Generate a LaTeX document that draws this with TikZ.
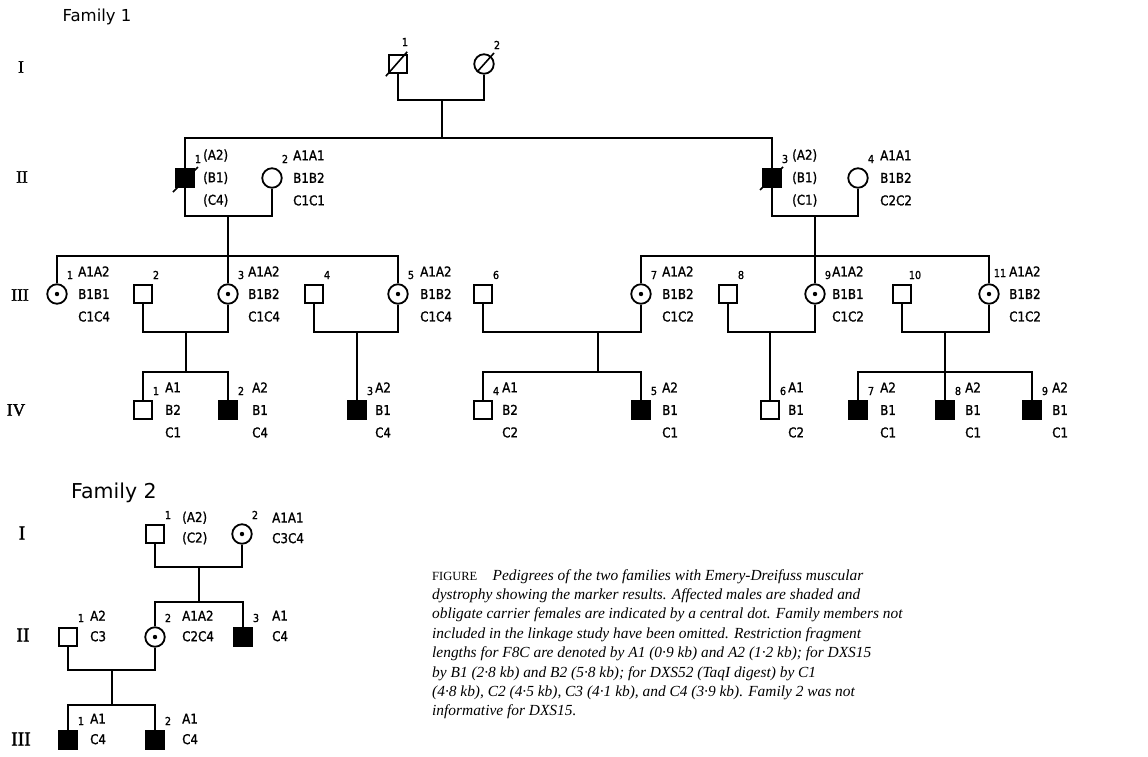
\documentclass[tikz,border=0pt]{standalone}
\usepackage{fontspec}
\setmainfont{Liberation Serif}
\newfontfamily\pedfont[FakeStretch=0.88,FakeBold=1.2]{DejaVu Sans}
\newfontfamily\headfont{DejaVu Sans}
\newfontfamily\genfont[FakeBold=1.6]{Liberation Serif}
\usetikzlibrary{calc,positioning}

\tikzset{
  % ---- symbols ----------------------------------------------------------
  male/.style={draw, rectangle, minimum size=18.5pt, inner sep=0pt, line width=1.8pt},
  female/.style={draw, circle, minimum size=19.5pt, inner sep=0pt, line width=1.8pt},
  aff/.style={male, fill=black},
  carrier/.style={female,
    path picture={\fill (path picture bounding box.center) circle (2.2pt);}},
  % ---- lines ------------------------------------------------------------
  link/.style={line width=1.9pt},
  slash/.style={line width=1.6pt},
  % ---- text -------------------------------------------------------------
  num/.style={font=\pedfont\fontsize{11}{11}\selectfont, inner sep=0pt},
  geno/.style={font=\pedfont\fontsize{13.5}{22.5}\selectfont, align=left, inner sep=0pt},
  genob/.style={geno, font=\pedfont\fontsize{13.5}{20.5}\selectfont},
  gen/.style={font=\genfont\fontsize{17.5}{18}\selectfont, inner sep=0pt},
  genb/.style={font=\genfont\fontsize{19.5}{20}\selectfont, inner sep=0pt},
  famtitle/.style={font=\headfont\fontsize{16.5}{18}\selectfont, inner sep=0pt},
  capt/.style={font=\itshape\fontsize{15.4}{19.4}\selectfont, align=left, inner sep=0pt},
}

% person: [number offset]{name}{position}{style}{number}
\newcommand{\mk}[5][13,-19]{\node[#4] (#2) at (#3) {}; \node[num] (#2n) at ($(#3)+(#1)$) {#5};}
% marker results beside a person
\newcommand{\gtext}[3][20]{\node[geno, anchor=west] (#2g) at ($(#2)+(#1,0)$) {#3};}
\newcommand{\gtextb}[4][27]{\node[genob, anchor=west, yshift=#3] (#2g) at ($(#2)+(#1,0)$) {#4};}

\begin{document}
\begin{tikzpicture}[x=1pt,y=-1pt]
\useasboundingbox (0,0) rectangle (1148,756);

% ---- headings -------------------------------------------------------------
\node[famtitle] (fam1) at (97,17) {Family 1};
\node[famtitle, font=\headfont\fontsize{20.5}{22}\selectfont] (fam2) at (114,493) {Family 2};

\node[gen] (g1) at (21,67) {I};
\node[gen] (g2) at (22,177) {II};
\node[gen] (g3) at (20,295) {III};
\node[gen] (g4) at (16,410) {IV};

\node[genb] (h1) at (22,533) {I};
\node[genb] (h2) at (23,635) {II};
\node[genb] (h3) at (21,739) {III};

% ---- family 1 -------------------------------------------------------------
\mk[7,-22]{i1}{398,64}{male}{1}
\mk{i2}{484,64}{female}{2}
\draw[slash] ([shift={(-2,2)}]i1.south west) -- ([shift={(-1,-2)}]i1.north east);
\draw[slash] ($(i2)+(-7,8)$) -- ($(i2)+(10,-11)$);

\mk{ii1}{185,178}{aff}{1}        \gtext[18]{ii1}{(A2)\\(B1)\\(C4)}
\mk{ii2}{272,178}{female}{2}     \gtext[21]{ii2}{A1A1\\B1B2\\C1C1}
\mk{ii3}{772,178}{aff}{3}        \gtext{ii3}{(A2)\\(B1)\\(C1)}
\mk{ii4}{858,178}{female}{4}     \gtext[22]{ii4}{A1A1\\B1B2\\C2C2}
\draw[slash] ($(ii1)+(-12,14)$) -- ($(ii1)+(13,-11)$);
\draw[slash] ($(ii3)+(-12,12)$) -- ($(ii3)+(11,-11)$);

\mk{iii1}{57,294}{carrier}{1}    \gtext[21]{iii1}{A1A2\\B1B1\\C1C4}
\mk{iii2}{143,294}{male}{2}
\mk{iii3}{228,294}{carrier}{3}   \gtext{iii3}{A1A2\\B1B2\\C1C4}
\mk{iii4}{314,294}{male}{4}
\mk{iii5}{398,294}{carrier}{5}   \gtext[22]{iii5}{A1A2\\B1B2\\C1C4}
\mk{iii6}{483,294}{male}{6}
\mk{iii7}{641,294}{carrier}{7}   \gtext[21]{iii7}{A1A2\\B1B2\\C1C2}
\mk{iii8}{728,294}{male}{8}
\mk{iii9}{815,294}{carrier}{9}   \gtext[17]{iii9}{A1A2\\B1B1\\C1C2}
\mk{iii10}{902,294}{male}{10}
\mk[11,-21]{iii11}{989,294}{carrier}{11} \gtext[20]{iii11}{A1A2\\B1B2\\C1C2}

\mk{iv1}{143,410}{male}{1}       \gtext[22]{iv1}{A1\\B2\\C1}
\mk{iv2}{228,410}{aff}{2}        \gtext[24]{iv2}{A2\\B1\\C4}
\mk{iv3}{357,410}{aff}{3}        \gtext[18]{iv3}{A2\\B1\\C4}
\mk{iv4}{483,410}{male}{4}       \gtext[19]{iv4}{A1\\B2\\C2}
\mk{iv5}{641,410}{aff}{5}        \gtext[21]{iv5}{A2\\B1\\C1}
\mk{iv6}{770,410}{male}{6}       \gtext[18]{iv6}{A1\\B1\\C2}
\mk{iv7}{858,410}{aff}{7}        \gtext[22]{iv7}{A2\\B1\\C1}
\mk{iv8}{945,410}{aff}{8}        \gtext{iv8}{A2\\B1\\C1}
\mk{iv9}{1032,410}{aff}{9}       \gtext{iv9}{A2\\B1\\C1}

% matings and sibships
\coordinate (mI) at (442,100);  \coordinate (sII) at (442,138);
\draw[link] (i1.south) |- (mI) -| (i2.south);
\draw[link] (mI) -- (sII);
\draw[link] (ii1.north) |- (sII) -| (ii3.north);

\coordinate (mA) at (228,216);  \coordinate (sA) at (228,256);
\draw[link] (ii1.south) |- (mA) -| (ii2.south);
\draw[link] (mA) -- (sA);
\draw[link] (iii1.north) |- (sA) -| (iii5.north);
\draw[link] (sA) -- (iii3.north);

\coordinate (mB) at (815,216);  \coordinate (sB) at (815,256);
\draw[link] (ii3.south) |- (mB) -| (ii4.south);
\draw[link] (mB) -- (sB);
\draw[link] (iii7.north) |- (sB) -| (iii11.north);
\draw[link] (sB) -- (iii9.north);

\coordinate (mC) at (186,332);  \coordinate (sC) at (186,372);
\draw[link] (iii2.south) |- (mC) -| (iii3.south);
\draw[link] (mC) -- (sC);
\draw[link] (iv1.north) |- (sC) -| (iv2.north);

\coordinate (mD) at (357,332);
\draw[link] (iii4.south) |- (mD) -| (iii5.south);
\draw[link] (mD) -- (iv3.north);

\coordinate (mE) at (598,332);  \coordinate (sE) at (598,372);
\draw[link] (iii6.south) |- (mE) -| (iii7.south);
\draw[link] (mE) -- (sE);
\draw[link] (iv4.north) |- (sE) -| (iv5.north);

\coordinate (mF) at (770,332);
\draw[link] (iii8.south) |- (mF) -| (iii9.south);
\draw[link] (mF) -- (iv6.north);

\coordinate (mG) at (945,332);  \coordinate (sG) at (945,372);
\draw[link] (iii10.south) |- (mG) -| (iii11.south);
\draw[link] (mG) -- (sG);
\draw[link] (iv7.north) |- (sG) -| (iv9.north);
\draw[link] (sG) -- (iv8.north);

% ---- family 2 -------------------------------------------------------------
\mk{fi1}{155,534}{male}{1}       \gtextb[27]{fi1}{6pt}{(A2)\\(C2)}
\mk{fi2}{242,534}{carrier}{2}    \gtextb[30]{fi2}{6pt}{A1A1\\C3C4}
\mk{fii1}{68,637}{male}{1}       \gtextb[22]{fii1}{11pt}{A2\\C3}
\mk{fii2}{155,637}{carrier}{2}   \gtextb[27]{fii2}{11pt}{A1A2\\C2C4}
\mk{fii3}{243,637}{aff}{3}       \gtextb[29]{fii3}{11pt}{A1\\C4}
\mk{fiii1}{68,740}{aff}{1}       \gtextb[22]{fiii1}{11pt}{A1\\C4}
\mk{fiii2}{155,740}{aff}{2}      \gtextb[27]{fiii2}{11pt}{A1\\C4}

\coordinate (fm1) at (199,567);  \coordinate (fs1) at (199,602);
\draw[link] (fi1.south) |- (fm1) -| (fi2.south);
\draw[link] (fm1) -- (fs1);
\draw[link] (fii2.north) |- (fs1) -| (fii3.north);

\coordinate (fm2) at (112,670);  \coordinate (fs2) at (112,705);
\draw[link] (fii1.south) |- (fm2) -| (fii2.south);
\draw[link] (fm2) -- (fs2);
\draw[link] (fiii1.north) |- (fs2) -| (fiii2.north);

% ---- caption --------------------------------------------------------------
\node[capt, anchor=north west] (cap) at (432,569)
  {{\upshape\fontsize{12.5}{19.4}\selectfont FIGURE}\quad Pedigrees of the two families with Emery-Dreifuss muscular\\
   dystrophy showing the marker results. Affected males are shaded and\\
   obligate carrier females are indicated by a central dot. Family members not\\
   included in the linkage study have been omitted. Restriction fragment\\
   lengths for F8C are denoted by A1 (0·9 kb) and A2 (1·2 kb); for DXS15\\
   by B1 (2·8 kb) and B2 (5·8 kb); for DXS52 (TaqI digest) by C1\\
   (4·8 kb), C2 (4·5 kb), C3 (4·1 kb), and C4 (3·9 kb). Family 2 was not\\
   informative for DXS15.};

\end{tikzpicture}
\end{document}
